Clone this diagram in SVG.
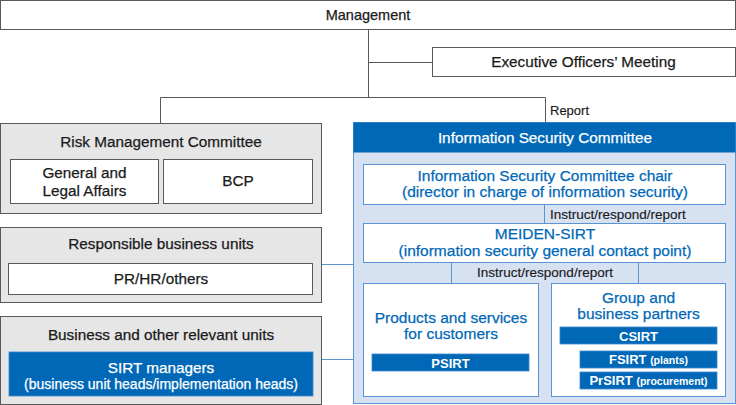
<svg xmlns="http://www.w3.org/2000/svg" width="736" height="405" viewBox="0 0 736 405">
<style>
text{font-family:"Liberation Sans",Arial,sans-serif;text-anchor:middle;stroke-width:0.25;}
.t{font-size:15.3px;fill:#1a1a1a;stroke:#1a1a1a;}
.s{font-size:13.5px;fill:#1a1a1a;stroke:#1a1a1a;stroke-width:0.15;text-anchor:start;}
.b{font-size:15.5px;fill:#0068b7;stroke:#0068b7;}
.w{font-size:15.3px;fill:#fff;stroke:#fff;}
.wb{font-size:13px;fill:#fff;font-weight:bold;}
.box{fill:#fff;stroke:#595959;stroke-width:1;}
.gray{fill:#e6e6e6;stroke:#595959;stroke-width:1;}
.bbox{fill:#fff;stroke:#5b93d3;stroke-width:1;}
.bar{fill:#0068b7;stroke:#3d86cc;stroke-width:0.8;}
.ln{fill:none;stroke:#595959;stroke-width:1;}
.bl{fill:none;stroke:#5b93d3;stroke-width:1;}
</style>
<g id="connectors">
<path class="ln" d="M368.5 30 V97.5 M368.5 62.5 H432 M160.5 123 V97.5 H545.5 V123"/>
<path class="bl" d="M322 264.5 H353 M322 359.5 H353"/>
</g>
<g id="management">
<rect class="box" x="0.5" y="0.5" width="735" height="29"/>
<text class="t" x="368" y="20" style="font-size:14.5px">Management</text>
</g>
<g id="exec">
<rect class="box" x="432.5" y="47.5" width="303" height="29"/>
<text class="t" x="583.5" y="67">Executive Officers’ Meeting</text>
</g>
<text class="s" x="550" y="115" style="font-size:13px">Report</text>
<g id="risk">
<rect class="gray" x="0.5" y="123.5" width="321" height="90"/>
<text class="t" x="161" y="147">Risk Management Committee</text>
<rect class="box" x="10.5" y="159.5" width="148" height="44"/>
<text class="t" x="84.5" y="178">General and</text>
<text class="t" x="84.5" y="196">Legal Affairs</text>
<rect class="box" x="163.5" y="159.5" width="149" height="44"/>
<text class="t" x="238" y="186">BCP</text>
</g>
<g id="responsible">
<rect class="gray" x="0.5" y="227.5" width="321" height="75"/>
<text class="t" x="161" y="249">Responsible business units</text>
<rect class="box" x="8.5" y="263.5" width="304" height="31"/>
<text class="t" x="161" y="284">PR/HR/others</text>
</g>
<g id="business">
<rect class="gray" x="0.5" y="316.5" width="321" height="88"/>
<text class="t" x="161" y="340">Business and other relevant units</text>
<rect class="bar" x="9" y="352" width="304" height="44"/>
<text class="w" x="161" y="373">SIRT managers</text>
<text class="w" x="161" y="389" style="font-size:14px">(business unit heads/implementation heads)</text>
</g>
<g id="isc">
<rect x="353.5" y="122.5" width="382" height="281" fill="#d6e1f2" stroke="#5b93d3"/>
<rect x="353.5" y="122.5" width="382" height="30" fill="#0068b7"/>
<text class="w" x="545" y="143">Information Security Committee</text>
</g>
<g id="chair">
<rect class="bbox" x="363.5" y="164.5" width="362" height="40"/>
<text class="b" x="545" y="181">Information Security Committee chair</text>
<text class="b" x="545" y="197">(director in charge of information security)</text>
</g>
<g id="isc-connectors">
<path class="bl" d="M544.5 204.5 V223.5 M451.5 262.5 V283.5 M638.5 262.5 V283.5 M570.5 344 V380.5 H580 M570.5 359.5 H580"/>
<text class="s" x="550" y="219">Instruct/respond/report</text>
<text class="s" x="545" y="277" style="text-anchor:middle">Instruct/respond/report</text>
</g>
<g id="meiden">
<rect class="bbox" x="363.5" y="223.5" width="362" height="39"/>
<text class="b" x="545" y="239">MEIDEN-SIRT</text>
<text class="b" x="545" y="256">(information security general contact point)</text>
</g>
<g id="products">
<rect class="bbox" x="363.5" y="283.5" width="175" height="113"/>
<text class="b" x="451" y="323">Products and services</text>
<text class="b" x="451" y="339">for customers</text>
<rect class="bar" x="372" y="354" width="157" height="17"/>
<text class="wb" x="450.5" y="367.5">PSIRT</text>
</g>
<g id="group">
<rect class="bbox" x="551.5" y="283.5" width="174" height="113"/>
<text class="b" x="638.5" y="303">Group and</text>
<text class="b" x="638.5" y="319">business partners</text>
<rect class="bar" x="560" y="327" width="157" height="17"/>
<text class="wb" x="638.5" y="340.5">CSIRT</text>
<rect class="bar" x="580" y="351" width="137" height="17"/>
<text class="wb" x="648.5" y="364">FSIRT <tspan style="font-size:10.5px">(plants)</tspan></text>
<rect class="bar" x="580" y="372" width="137" height="17"/>
<text class="wb" x="648.5" y="385">PrSIRT <tspan style="font-size:10.5px">(procurement)</tspan></text>
</g>
</svg>
